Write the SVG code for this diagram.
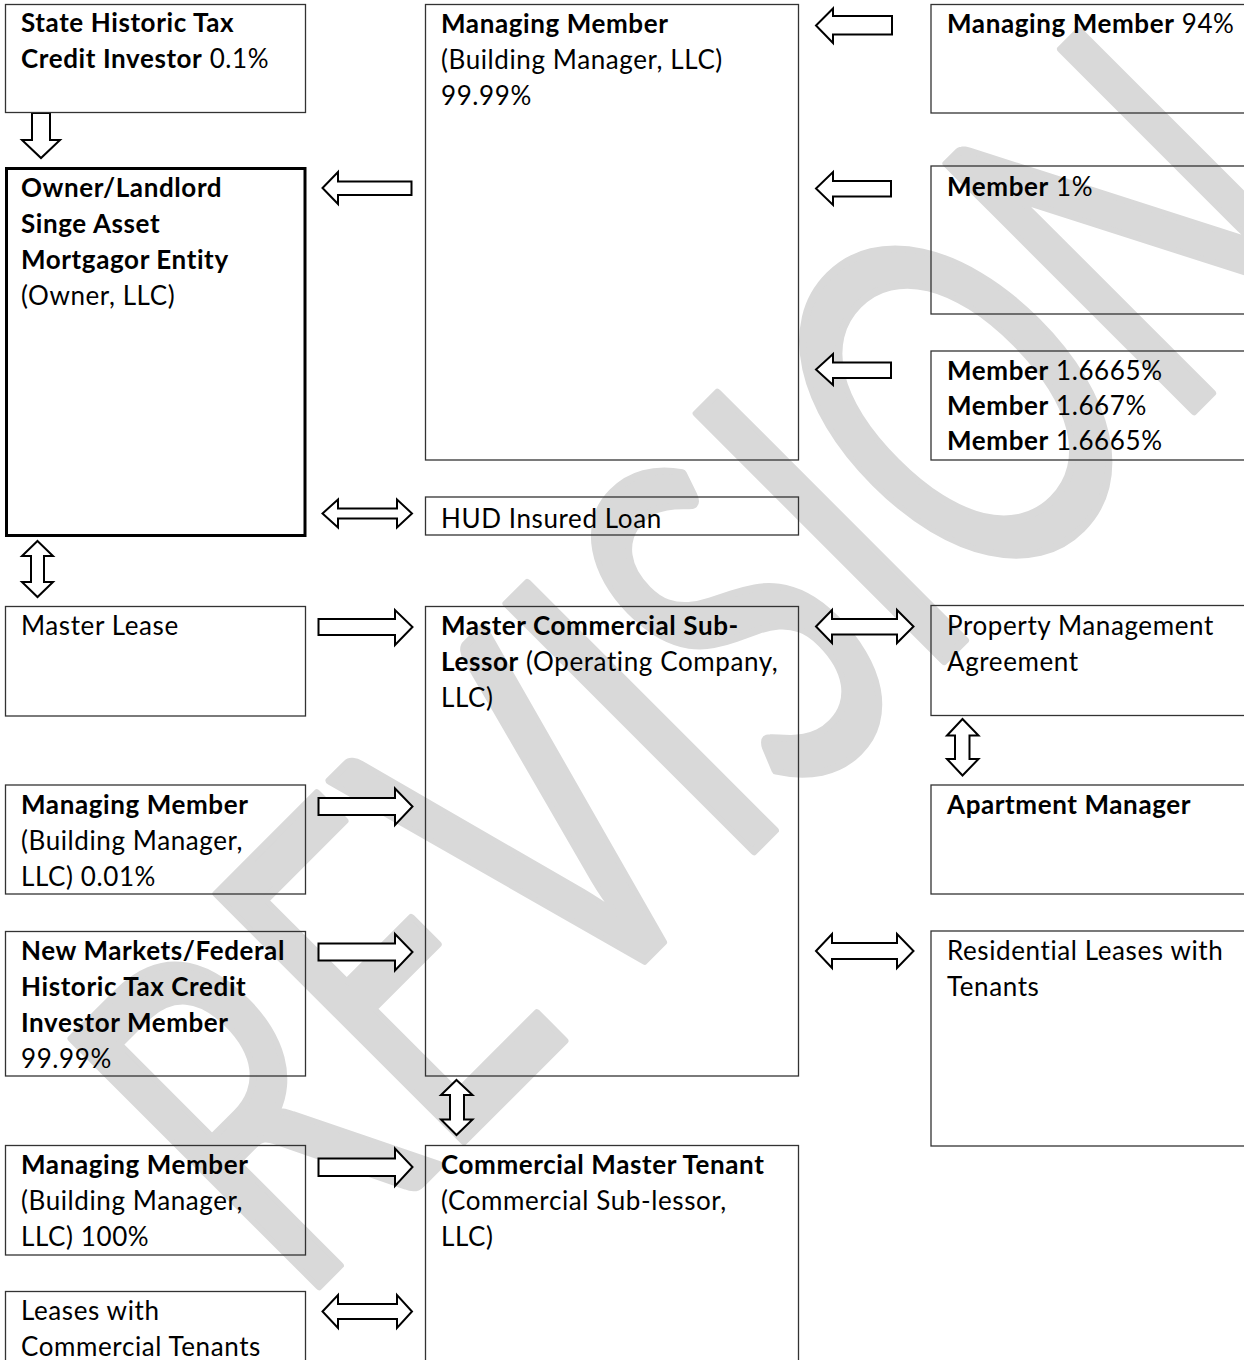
<svg xmlns="http://www.w3.org/2000/svg" width="1244" height="1360" viewBox="0 0 1244 1360">
<style>
text{font-family:Lato,"Liberation Sans",sans-serif;font-size:26px;letter-spacing:0.6px;fill:#000}
.b{font-weight:bold}
.box{fill:none;stroke:#333;stroke-width:1.3}
.thick{fill:none;stroke:#000;stroke-width:3}
.arr{fill:#fff;stroke:#000;stroke-width:2;stroke-linejoin:miter}
.wm{font-family:Lato,"Liberation Sans",sans-serif;font-size:488px;letter-spacing:0;fill:#d9d9d9;stroke:#d9d9d9;stroke-width:8;stroke-linejoin:round}
</style>
<rect width="1244" height="1360" fill="#fff"/>
<g id="watermark">
<text class="wm" transform="translate(297,1308) rotate(-45)" textLength="1487" lengthAdjust="spacingAndGlyphs">REVISION</text>
</g>
<g id="connectors">
<polygon class="arr" points="32,113 50,113 50,140 60,140 41,158 22,140 32,140"/>
<polygon class="arr" points="411.5,181.5 338,181.5 338,172 322.5,188 338,204 338,195 411.5,195"/>
<polygon class="arr" points="892,16 833,16 833,8.5 816,25.5 833,43 833,34.5 892,34.5"/>
<polygon class="arr" points="891,181 833,181 833,172 816,188.5 833,205 833,196.5 891,196.5"/>
<polygon class="arr" points="891,362.5 833,362.5 833,354 816,369.5 833,385 833,378 891,378"/>
<polygon class="arr" points="322.5,513.5 338,499.5 338,508.5 397,508.5 397,499.5 412,513.5 397,527.5 397,518.5 338,518.5 338,527.5"/>
<polygon class="arr" points="37.5,541 53,556 44,556 44,582 53,582 37.5,597 22,582 31,582 31,556 22,556"/>
<polygon class="arr" points="318.5,619 395,619 395,610 412.5,627 395,645 395,635 318.5,635"/>
<polygon class="arr" points="318.5,798 395,798 395,788.5 412.5,806.5 395,825 395,815 318.5,815"/>
<polygon class="arr" points="318.5,943.5 395,943.5 395,934 412.5,952 395,970.5 395,960.5 318.5,960.5"/>
<polygon class="arr" points="318.5,1158.5 395,1158.5 395,1148.5 412.5,1167 395,1186 395,1176 318.5,1176"/>
<polygon class="arr" points="322.5,1311.5 338,1295 338,1304 397,1304 397,1295 412,1311.5 397,1328 397,1319 338,1319 338,1328"/>
<polygon class="arr" points="456.5,1080 472.5,1095 464,1095 464,1119.5 472.5,1119.5 456.5,1135 441,1119.5 450,1119.5 450,1095 441,1095"/>
<polygon class="arr" points="816,626.5 832,610 832,619 897,619 897,610 913.5,626.5 897,643 897,634.5 832,634.5 832,643"/>
<polygon class="arr" points="816,951 832,934 832,943 897,943 897,934 913.5,951 897,968 897,959 832,959 832,968"/>
<polygon class="arr" points="962.5,719 978.5,735.5 969.5,735.5 969.5,759 978.5,759 962.5,775.5 947,759 955,759 955,735.5 947,735.5"/>
</g>
<g id="state-investor">
<rect class="box" x="5.5" y="4.5" width="300" height="108"/>
<text x="21" y="32" class="b">State Historic Tax</text>
<text x="21" y="68"><tspan class="b">Credit Investor</tspan> 0.1%</text>
</g>
<g id="owner">
<rect class="thick" x="6.5" y="168.5" width="298.5" height="367"/>
<text x="21" y="197" class="b">Owner/Landlord</text>
<text x="21" y="233" class="b">Singe Asset</text>
<text x="21" y="269" class="b">Mortgagor Entity</text>
<text x="21" y="305">(Owner, LLC)</text>
</g>
<g id="master-lease">
<rect class="box" x="5.5" y="606.5" width="300" height="109.5"/>
<text x="21" y="635">Master Lease</text>
</g>
<g id="mm-001">
<rect class="box" x="5.5" y="785" width="300" height="109"/>
<text x="21" y="814" class="b">Managing Member</text>
<text x="21" y="850">(Building Manager,</text>
<text x="21" y="886">LLC) 0.01%</text>
</g>
<g id="new-markets">
<rect class="box" x="5.5" y="931.5" width="300" height="144.5"/>
<text x="21" y="960" class="b">New Markets/Federal</text>
<text x="21" y="996" class="b">Historic Tax Credit</text>
<text x="21" y="1032" class="b">Investor Member</text>
<text x="21" y="1068">99.99%</text>
</g>
<g id="mm-100">
<rect class="box" x="5.5" y="1145.5" width="300" height="109.5"/>
<text x="21" y="1174" class="b">Managing Member</text>
<text x="21" y="1210">(Building Manager,</text>
<text x="21" y="1246">LLC) 100%</text>
</g>
<g id="leases-commercial">
<rect class="box" x="5.5" y="1291.5" width="300" height="100"/>
<text x="21" y="1320">Leases with</text>
<text x="21" y="1356">Commercial Tenants</text>
</g>
<g id="mm-9999">
<rect class="box" x="425.5" y="4.5" width="373" height="455.5"/>
<text x="441" y="33" class="b">Managing Member</text>
<text x="441" y="69">(Building Manager, LLC)</text>
<text x="441" y="105">99.99%</text>
</g>
<g id="hud">
<rect class="box" x="425.5" y="497" width="373" height="38"/>
<text x="441" y="528">HUD Insured Loan</text>
</g>
<g id="master-commercial">
<rect class="box" x="425.5" y="606.5" width="373" height="469.5"/>
<text x="441" y="635" class="b">Master Commercial Sub-</text>
<text x="441" y="671"><tspan class="b">Lessor</tspan> (Operating Company,</text>
<text x="441" y="707">LLC)</text>
</g>
<g id="commercial-master-tenant">
<rect class="box" x="425.5" y="1145.5" width="373" height="250"/>
<text x="441" y="1174" class="b">Commercial Master Tenant</text>
<text x="441" y="1210">(Commercial Sub-lessor,</text>
<text x="441" y="1246">LLC)</text>
</g>
<g id="mm-94">
<rect class="box" x="931" y="4.5" width="330" height="108.5"/>
<text x="947" y="33"><tspan class="b">Managing Member</tspan> 94%</text>
</g>
<g id="member-1">
<rect class="box" x="931" y="166" width="330" height="148"/>
<text x="947" y="196"><tspan class="b">Member</tspan> 1%</text>
</g>
<g id="members">
<rect class="box" x="931" y="351" width="330" height="109"/>
<text x="947" y="380"><tspan class="b">Member</tspan> 1.6665%</text>
<text x="947" y="415"><tspan class="b">Member</tspan> 1.667%</text>
<text x="947" y="450"><tspan class="b">Member</tspan> 1.6665%</text>
</g>
<g id="property-mgmt">
<rect class="box" x="931" y="605.5" width="330" height="110"/>
<text x="947" y="635">Property Management</text>
<text x="947" y="671">Agreement</text>
</g>
<g id="apartment-manager">
<rect class="box" x="931" y="785" width="330" height="109"/>
<text x="947" y="814" class="b">Apartment Manager</text>
</g>
<g id="residential-leases">
<rect class="box" x="931" y="931" width="330" height="215"/>
<text x="947" y="960">Residential Leases with</text>
<text x="947" y="996">Tenants</text>
</g>
</svg>
